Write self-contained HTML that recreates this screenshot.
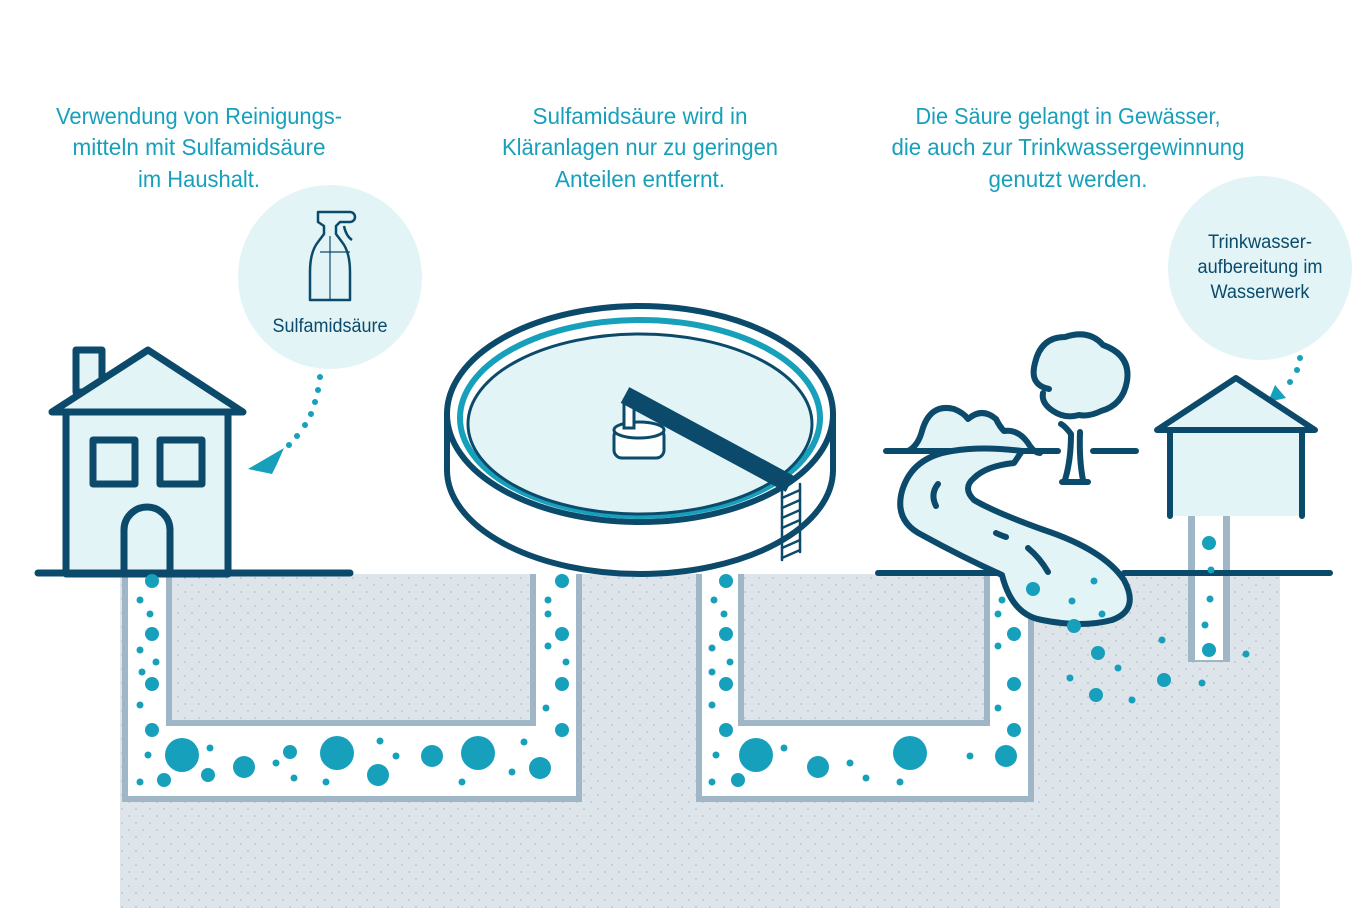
<!DOCTYPE html>
<html><head><meta charset="utf-8"><style>
html,body{margin:0;padding:0;background:#fff;width:1362px;height:908px;overflow:hidden}
svg{display:block}
.t{font-family:"Liberation Sans",sans-serif;fill:#17a0bb;font-size:23px;text-anchor:middle}
.s{font-family:"Liberation Sans",sans-serif;fill:#0b4a6b;font-size:19px;text-anchor:middle}
</style></head><body>
<svg width="1362" height="908" viewBox="0 0 1362 908">
<defs>
<pattern id="sp" width="14" height="14" patternUnits="userSpaceOnUse">
<rect width="14" height="14" fill="#dde4ea"/>
<circle cx="3" cy="4" r="0.6" fill="#8a9aa8"/><circle cx="10" cy="11" r="0.6" fill="#8a9aa8"/>
</pattern>
</defs>
<rect x="120" y="574" width="1160" height="334" fill="url(#sp)"/>
<polygon points="122,574 122,802 582,802 582,574 530,574 530,720 172,720 172,574" fill="#9fb6c6"/>
<polygon points="128,574 128,796 576,796 576,574 536,574 536,726 166,726 166,574" fill="#fff"/>
<polygon points="696,574 696,802 1034,802 1034,574 984,574 984,720 744,720 744,574" fill="#9fb6c6"/>
<polygon points="702,574 702,796 1028,796 1028,574 990,574 990,726 738,726 738,574" fill="#fff"/>
<rect x="1188" y="516" width="42" height="146" fill="#9fb6c6"/>
<rect x="1195" y="516" width="28" height="144" fill="#fff"/>
<text class="t" x="199" y="124" textLength="286" lengthAdjust="spacingAndGlyphs">Verwendung von Reinigungs-</text>
<text class="t" x="199" y="155" textLength="253" lengthAdjust="spacingAndGlyphs">mitteln mit Sulfamidsäure</text>
<text class="t" x="199" y="187" textLength="122" lengthAdjust="spacingAndGlyphs">im Haushalt.</text>
<text class="t" x="640" y="124" textLength="215" lengthAdjust="spacingAndGlyphs">Sulfamidsäure wird in</text>
<text class="t" x="640" y="155" textLength="276" lengthAdjust="spacingAndGlyphs">Kläranlagen nur zu geringen</text>
<text class="t" x="640" y="187" textLength="170" lengthAdjust="spacingAndGlyphs">Anteilen entfernt.</text>
<text class="t" x="1068" y="124" textLength="305" lengthAdjust="spacingAndGlyphs">Die Säure gelangt in Gewässer,</text>
<text class="t" x="1068" y="155" textLength="353" lengthAdjust="spacingAndGlyphs">die auch zur Trinkwassergewinnung</text>
<text class="t" x="1068" y="187" textLength="159" lengthAdjust="spacingAndGlyphs">genutzt werden.</text>
<circle cx="330" cy="277" r="92" fill="#e3f4f7"/>
<text class="s" x="330" y="332" textLength="115" lengthAdjust="spacingAndGlyphs">Sulfamidsäure</text>
<g fill="none" stroke="#0b4a6b" stroke-width="2.5" stroke-linejoin="round">
<path d="M318,212 h32 a4,4 0 0 1 0,10 h-10 l-4,4 v8 l6,8 q8,10 8,30 v28 h-40 v-28 q0,-20 8,-30 l6,-8 v-8 l-6,-4 z"/>
<path d="M344,226 q2,10 8,14"/><path d="M320,252 h30" stroke-width="1.2"/><path d="M330,236 v64" stroke-width="1.2"/>
</g>
<circle cx="1260" cy="268" r="92" fill="#e3f4f7"/>
<text class="s" x="1260" y="248" textLength="104" lengthAdjust="spacingAndGlyphs">Trinkwasser-</text>
<text class="s" x="1260" y="273" textLength="125" lengthAdjust="spacingAndGlyphs">aufbereitung im</text>
<text class="s" x="1260" y="298" textLength="99" lengthAdjust="spacingAndGlyphs">Wasserwerk</text>
<g fill="#17a0bb">
<circle cx="320" cy="377" r="3"/><circle cx="318" cy="390" r="3"/><circle cx="315" cy="402" r="3"/><circle cx="311" cy="414" r="3"/><circle cx="305" cy="425" r="3"/><circle cx="297" cy="436" r="3"/><circle cx="289" cy="445" r="3"/>
<polygon points="248,469 284,448 277,464 272,474"/>
<circle cx="1300" cy="358" r="3"/><circle cx="1297" cy="370" r="3"/><circle cx="1290" cy="382" r="3"/>
<polygon points="1268,402 1275,385 1286,398"/>
</g>
<g stroke="#0b4a6b" stroke-width="7" stroke-linejoin="round" stroke-linecap="round">
<rect x="76" y="350" width="26" height="42" fill="#e3f4f7"/>
<rect x="66" y="412" width="162" height="162" fill="#e3f4f7"/>
<polygon points="52,412 148,350 243,412" fill="#e3f4f7"/>
<rect x="93" y="440" width="42" height="44" fill="#e3f4f7"/>
<rect x="160" y="440" width="42" height="44" fill="#e3f4f7"/>
<path d="M124,574 v-44 a23,23 0 0 1 46,0 v44" fill="#e3f4f7"/>
<line x1="38" y1="573" x2="350" y2="573"/>
</g>
<g stroke="#0b4a6b" stroke-linecap="round">
<path d="M447,414 v56 a193,104 0 0 0 386,0 v-56" fill="#fff" stroke-width="6"/>
<ellipse cx="640" cy="414" rx="193" ry="108" fill="#fff" stroke-width="6"/>
<ellipse cx="640" cy="418" rx="180" ry="98" fill="none" stroke="#17a0bb" stroke-width="6"/>
<ellipse cx="640" cy="424" rx="172" ry="90" fill="#e3f4f7" stroke-width="3"/>
<g fill="#fff" stroke-width="3"><rect x="614" y="428" width="50" height="30" rx="8"/><ellipse cx="639" cy="430" rx="25" ry="8"/><rect x="624" y="404" width="10" height="24"/></g>
<line x1="625" y1="395" x2="790" y2="484" stroke-width="18" stroke-linecap="butt"/>
<g stroke-width="2.5" fill="none"><line x1="782" y1="488" x2="782" y2="560"/><line x1="800" y1="484" x2="800" y2="552"/>
<path d="M782,498 l18,-8 M782,508 l18,-8 M782,518 l18,-8 M782,528 l18,-8 M782,538 l18,-8 M782,548 l18,-8 M782,558 l18,-8"/></g>
</g>
<g stroke="#0b4a6b" stroke-width="6" stroke-linecap="round" stroke-linejoin="round" fill="#e3f4f7">
<path d="M908,451 q10,-5 14,-20 q8,-28 32,-22 q10,4 14,10 q14,-12 28,0 q4,8 8,12 q14,-2 24,12 q6,10 12,10" />
<line x1="886" y1="451" x2="1058" y2="451" fill="none"/>
<line x1="1093" y1="451" x2="1136" y2="451" fill="none"/>
<path d="M1065,480 q6,-20 6,-46 q-6,-8 -10,-10 M1083,480 q-4,-20 -3,-48 M1062,482 h26" fill="none"/>
<path d="M1049,389 q-20,-4 -14,-26 q6,-26 30,-26 q24,-8 38,8 q28,10 24,36 q-4,24 -26,30 q-12,6 -22,4 q-14,4 -26,-4 q-12,-8 -10,-18" />
<path d="M1022,451 q-40,-5 -70,0 q-40,6 -50,40 q-8,30 20,44 q40,22 80,40 q10,40 40,45 q40,8 70,0 q28,-10 12,-40 q-20,-30 -80,-50 q-50,-18 -70,-30 q-12,-12 0,-22 q12,-12 40,-15 z"/>
<path d="M938,484 q-8,10 -2,22 M996,533 q4,2 10,4 M1028,548 q12,10 20,24" fill="none"/>
<line x1="878" y1="573" x2="998" y2="573" fill="none"/>
<line x1="1124" y1="573" x2="1330" y2="573" fill="none"/>
<rect x="1170" y="430" width="132" height="86" stroke="none"/>
<path d="M1170,516 v-86 h132 v86" fill="none"/>
<polygon points="1157,430 1236,378 1315,430"/>
</g>
<g fill="#17a0bb">
<circle cx="152" cy="581" r="7"/><circle cx="140" cy="600" r="3.5"/><circle cx="150" cy="614" r="3.5"/><circle cx="152" cy="634" r="7"/><circle cx="140" cy="650" r="3.5"/><circle cx="156" cy="662" r="3.5"/><circle cx="142" cy="672" r="3.5"/><circle cx="152" cy="684" r="7"/><circle cx="140" cy="705" r="3.5"/><circle cx="152" cy="730" r="7"/>
<circle cx="148" cy="755" r="3.5"/><circle cx="182" cy="755" r="17"/><circle cx="164" cy="780" r="7"/><circle cx="140" cy="782" r="3.5"/><circle cx="208" cy="775" r="7"/><circle cx="210" cy="748" r="3.5"/><circle cx="244" cy="767" r="11"/><circle cx="276" cy="763" r="3.5"/><circle cx="290" cy="752" r="7"/><circle cx="294" cy="778" r="3.5"/><circle cx="337" cy="753" r="17"/><circle cx="326" cy="782" r="3.5"/><circle cx="378" cy="775" r="11"/><circle cx="380" cy="741" r="3.5"/><circle cx="396" cy="756" r="3.5"/><circle cx="432" cy="756" r="11"/><circle cx="462" cy="782" r="3.5"/><circle cx="478" cy="753" r="17"/><circle cx="512" cy="772" r="3.5"/><circle cx="524" cy="742" r="3.5"/><circle cx="540" cy="768" r="11"/><circle cx="562" cy="730" r="7"/><circle cx="546" cy="708" r="3.5"/><circle cx="562" cy="684" r="7"/><circle cx="566" cy="662" r="3.5"/><circle cx="548" cy="646" r="3.5"/><circle cx="562" cy="634" r="7"/><circle cx="548" cy="614" r="3.5"/><circle cx="548" cy="600" r="3.5"/><circle cx="562" cy="581" r="7"/>
<circle cx="726" cy="581" r="7"/><circle cx="714" cy="600" r="3.5"/><circle cx="724" cy="614" r="3.5"/><circle cx="726" cy="634" r="7"/><circle cx="712" cy="648" r="3.5"/><circle cx="730" cy="662" r="3.5"/><circle cx="712" cy="672" r="3.5"/><circle cx="726" cy="684" r="7"/><circle cx="712" cy="705" r="3.5"/><circle cx="726" cy="730" r="7"/>
<circle cx="716" cy="755" r="3.5"/><circle cx="756" cy="755" r="17"/><circle cx="738" cy="780" r="7"/><circle cx="712" cy="782" r="3.5"/><circle cx="784" cy="748" r="3.5"/><circle cx="818" cy="767" r="11"/><circle cx="850" cy="763" r="3.5"/><circle cx="866" cy="778" r="3.5"/><circle cx="910" cy="753" r="17"/><circle cx="900" cy="782" r="3.5"/><circle cx="970" cy="756" r="3.5"/><circle cx="1006" cy="756" r="11"/><circle cx="1014" cy="730" r="7"/><circle cx="998" cy="708" r="3.5"/><circle cx="1014" cy="684" r="7"/><circle cx="998" cy="646" r="3.5"/><circle cx="1014" cy="634" r="7"/><circle cx="998" cy="614" r="3.5"/><circle cx="1002" cy="600" r="3.5"/>
<circle cx="1033" cy="589" r="7"/><circle cx="1072" cy="601" r="3.5"/><circle cx="1094" cy="581" r="3.5"/><circle cx="1074" cy="626" r="7"/><circle cx="1102" cy="614" r="3.5"/><circle cx="1098" cy="653" r="7"/><circle cx="1118" cy="668" r="3.5"/><circle cx="1070" cy="678" r="3.5"/><circle cx="1096" cy="695" r="7"/><circle cx="1132" cy="700" r="3.5"/><circle cx="1164" cy="680" r="7"/><circle cx="1162" cy="640" r="3.5"/><circle cx="1202" cy="683" r="3.5"/><circle cx="1246" cy="654" r="3.5"/>
<circle cx="1209" cy="543" r="7"/><circle cx="1211" cy="570" r="3.5"/><circle cx="1210" cy="599" r="3.5"/><circle cx="1205" cy="625" r="3.5"/><circle cx="1209" cy="650" r="7"/>
</g>
</svg>
</body></html>
